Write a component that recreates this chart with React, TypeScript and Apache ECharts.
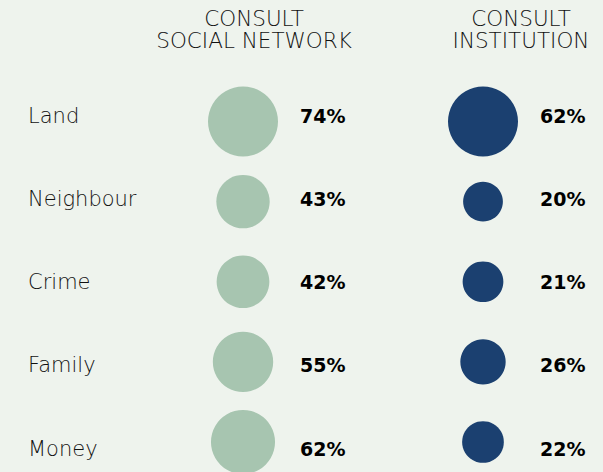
import React, { useEffect, useRef } from "react";
import * as echarts from "echarts";

const rows = ["Land", "Neighbour", "Crime", "Family", "Money"];
const columns = ["Social network", "Institution"];
const headers = ["CONSULT\nSOCIAL NETWORK", "CONSULT\nINSTITUTION"];
const socialNetwork = [74, 43, 42, 55, 62];
const institution = [62, 20, 21, 26, 22];

const BG = "#eef3ed";
const GREEN = "#a7c5b0";
const BLUE = "#1b4070";
const FONT = "DejaVu Sans";

export default function App() {
  const ref = useRef<HTMLDivElement>(null);
  useEffect(() => {
    document.body.style.margin = "0";
    document.body.style.background = BG;
    const chart = echarts.init(ref.current!, undefined, { renderer: "svg" });
    const maxS = Math.max(...socialNetwork);
    const maxI = Math.max(...institution);
    const circles = (vals: number[], col: string, max: number, color: string) => ({
      type: "scatter",
      xAxisIndex: 0,
      yAxisIndex: 0,
      data: vals.map((v, i) => [col, rows[i], v]),
      symbol: "circle",
      symbolSize: (d: any) => 70 * Math.sqrt(d[2] / max),
      itemStyle: { color, opacity: 1 },
      emphasis: { disabled: true },
    });
    const labels = (vals: number[], col: string) => ({
      type: "scatter",
      xAxisIndex: 1,
      yAxisIndex: 1,
      data: vals.map((v, i) => [col, rows[i], v]),
      symbolSize: 1,
      itemStyle: { color: "rgba(0,0,0,0)" },
      label: {
        show: true,
        position: "inside",
        align: "left",
        offset: [57, 0],
        formatter: (p: any) => p.value[2] + "%",
        color: "#000",
        opacity: 1,
        fontFamily: FONT,
        fontWeight: "bold",
        fontSize: 19,
      },
      emphasis: { disabled: true },
    });
    const headerText = (x: number, text: string) => ({
      type: "text",
      x,
      y: 7,
      style: {
        text,
        align: "center",
        verticalAlign: "top",
        font: `200 21.5px '${FONT}'`,
        lineHeight: 22,
        fill: "#111",
      },
    });
    chart.setOption({
      animation: false,
      backgroundColor: BG,
      grid: [
        { left: 123, right: 0, top: 121.5, bottom: 30 },
        { left: 123, right: 0, top: 116, bottom: 23.5 },
      ],
      xAxis: [
        { type: "category", data: columns, show: false, gridIndex: 0 },
        { type: "category", data: columns, show: false, gridIndex: 1 },
      ],
      yAxis: [
        {
          type: "category",
          data: rows,
          inverse: true,
          boundaryGap: false,
          show: false,
          gridIndex: 0,
        },
        {
          type: "category",
          data: rows,
          inverse: true,
          boundaryGap: false,
          gridIndex: 1,
          axisLine: { show: false },
          axisTick: { show: false },
          splitLine: { show: false },
          axisLabel: {
            align: "left",
            margin: 95,
            color: "#111",
            fontFamily: FONT,
            fontWeight: 200,
            fontSize: 21,
          },
        },
      ],
      graphic: [headerText(254, headers[0]), headerText(521, headers[1])],
      series: [
        circles(socialNetwork, columns[0], maxS, GREEN),
        circles(institution, columns[1], maxI, BLUE),
        labels(socialNetwork, columns[0]),
        labels(institution, columns[1]),
      ],
    });
    return () => chart.dispose();
  }, []);
  return <div ref={ref} style={{ width: 603, height: 472 }} />;
}
